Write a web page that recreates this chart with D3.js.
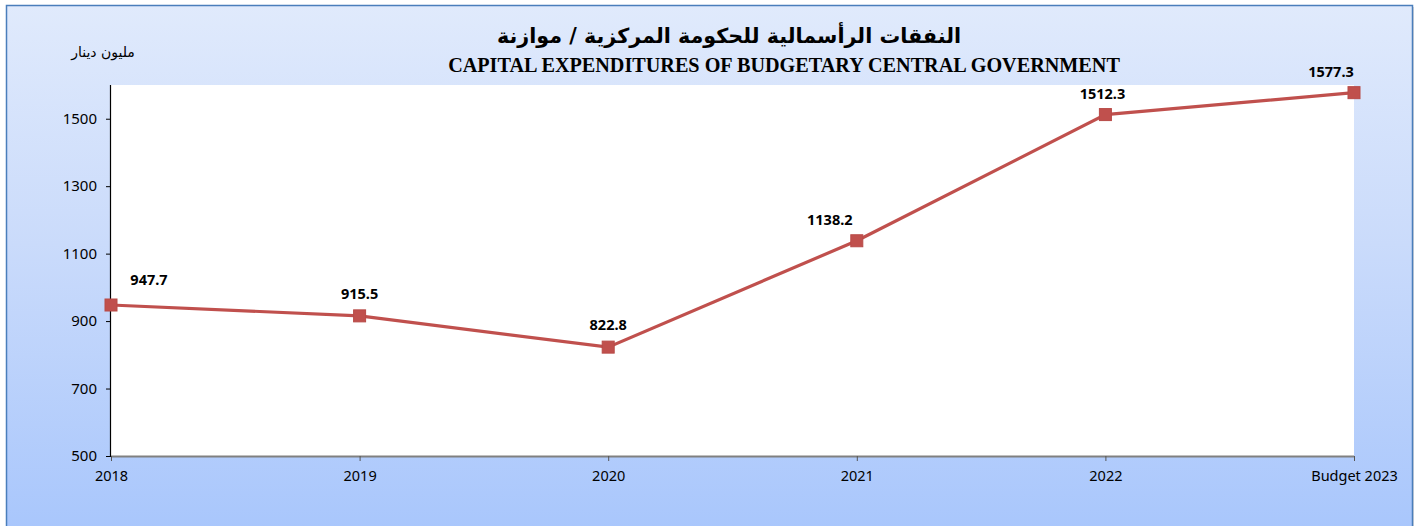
<!DOCTYPE html>
<html>
<head>
<meta charset="utf-8">
<script src="https://cdn.jsdelivr.net/npm/d3@7"></script>
<style>
  html, body { margin: 0; padding: 0; background: #ffffff; }
  svg { display: block; }
</style>
</head>
<body>
<svg id="chart" width="1419" height="526"></svg>
<script>
// Capital expenditures, million dinars
const categories = ["2018", "2019", "2020", "2021", "2022", "Budget 2023"];
const expenditures = [947.7, 915.5, 822.8, 1138.2, 1512.3, 1577.3];
const yTicks = [500, 700, 900, 1100, 1300, 1500];

const titleAr = "النفقات الرأسمالية للحكومة المركزية / موازنة";
const titleEn = "CAPITAL EXPENDITURES OF BUDGETARY CENTRAL GOVERNMENT";
const unitLabel = "مليون دينار";

const svg = d3.select("#chart");
const plot = { left: 111, right: 1354, top: 85, bottom: 456 };
const sans = "'Noto Sans', 'Open Sans', 'DejaVu Sans', sans-serif";

// background panel with vertical gradient
const defs = svg.append("defs");
const grad = defs.append("linearGradient").attr("id", "bg").attr("x1", 0).attr("y1", 0).attr("x2", 0).attr("y2", 1);
grad.append("stop").attr("offset", "0%").attr("stop-color", "#e0eafc");
grad.append("stop").attr("offset", "45%").attr("stop-color", "#cadbfb");
grad.append("stop").attr("offset", "100%").attr("stop-color", "#a8c6fc");

svg.append("rect").attr("x", 8).attr("y", 7).attr("width", 1406).attr("height", 530)
  .attr("fill", "#d8d8d8");
svg.append("rect").attr("x", 6.5).attr("y", 5.5).attr("width", 1406).attr("height", 530)
  .attr("fill", "url(#bg)").attr("stroke", "#4a7ebb").attr("stroke-width", 1.5);

// plot area
svg.append("rect").attr("x", plot.left).attr("y", plot.top)
  .attr("width", plot.right - plot.left).attr("height", plot.bottom - plot.top)
  .attr("fill", "#ffffff");

const x = d3.scalePoint().domain(categories).range([plot.left, plot.right]).padding(0);
const y = d3.scaleLinear().domain([500, 1600]).range([plot.bottom, plot.top]);

// y axis
const yAxis = svg.append("g").attr("transform", `translate(${plot.left},0)`)
  .call(d3.axisLeft(y).tickValues(yTicks).tickSize(5).tickPadding(9).tickFormat(d3.format("d")));
yAxis.select(".domain").attr("d", `M-0.5,${plot.bottom}V${plot.top}`).attr("stroke", "#000").attr("stroke-width", 1.2);
yAxis.selectAll(".tick line").attr("stroke", "#000");
yAxis.selectAll(".tick text").attr("font-family", sans)
  .attr("font-size", 15).attr("fill", "#000");

// x axis
const xAxis = svg.append("g").attr("transform", `translate(0,${plot.bottom})`)
  .call(d3.axisBottom(x).tickSize(5).tickPadding(10));
xAxis.select(".domain").attr("d", `M${plot.left},0.5H${plot.right}`).attr("stroke", "#808080").attr("stroke-width", 2);
xAxis.selectAll(".tick line").attr("stroke", "#555");
xAxis.selectAll(".tick text").attr("font-family", sans)
  .attr("font-size", 14.5).attr("fill", "#000");

// line series
const data = categories.map((c, i) => ({ c, v: expenditures[i] }));
svg.append("path").datum(data)
  .attr("fill", "none").attr("stroke", "#c0504d").attr("stroke-width", 3.2)
  .attr("d", d3.line().x(d => x(d.c)).y(d => y(d.v)));

// square markers
const ms = 12;
svg.append("g").selectAll("rect").data(data).join("rect")
  .attr("x", d => x(d.c) - ms / 2).attr("y", d => y(d.v) - ms / 2)
  .attr("width", ms).attr("height", ms)
  .attr("fill", "#c0504d").attr("stroke", "#b84a47").attr("stroke-width", 1);

// value labels (offsets relative to each point)
const labelOffsets = [[38, -20], [0, -17], [0, -17], [-27, -16], [-3, -16], [-23, -16]];
svg.append("g").selectAll("text").data(data).join("text")
  .attr("x", (d, i) => x(d.c) + labelOffsets[i][0])
  .attr("y", (d, i) => y(d.v) + labelOffsets[i][1])
  .attr("text-anchor", "middle")
  .attr("font-family", sans)
  .attr("font-weight", "bold").attr("font-size", 14.5).attr("fill", "#000")
  .text(d => d.v.toFixed(1));

// titles
svg.append("text").attr("x", 729).attr("y", 43).attr("text-anchor", "middle")
  .attr("direction", "rtl")
  .attr("font-family", "'DejaVu Sans', sans-serif").attr("font-weight", "bold")
  .attr("font-size", 20.7).attr("fill", "#000").text(titleAr);
svg.append("text").attr("x", 784).attr("y", 72).attr("text-anchor", "middle")
  .attr("font-family", "'Liberation Serif', 'Times New Roman', serif").attr("font-weight", "bold")
  .attr("font-size", 20.2).attr("fill", "#000").text(titleEn);

// unit label
svg.append("text").attr("x", 103).attr("y", 57).attr("text-anchor", "middle")
  .attr("direction", "rtl")
  .attr("font-family", "'DejaVu Sans', sans-serif")
  .attr("font-size", 14).attr("fill", "#000").text(unitLabel);
</script>
</body>
</html>
